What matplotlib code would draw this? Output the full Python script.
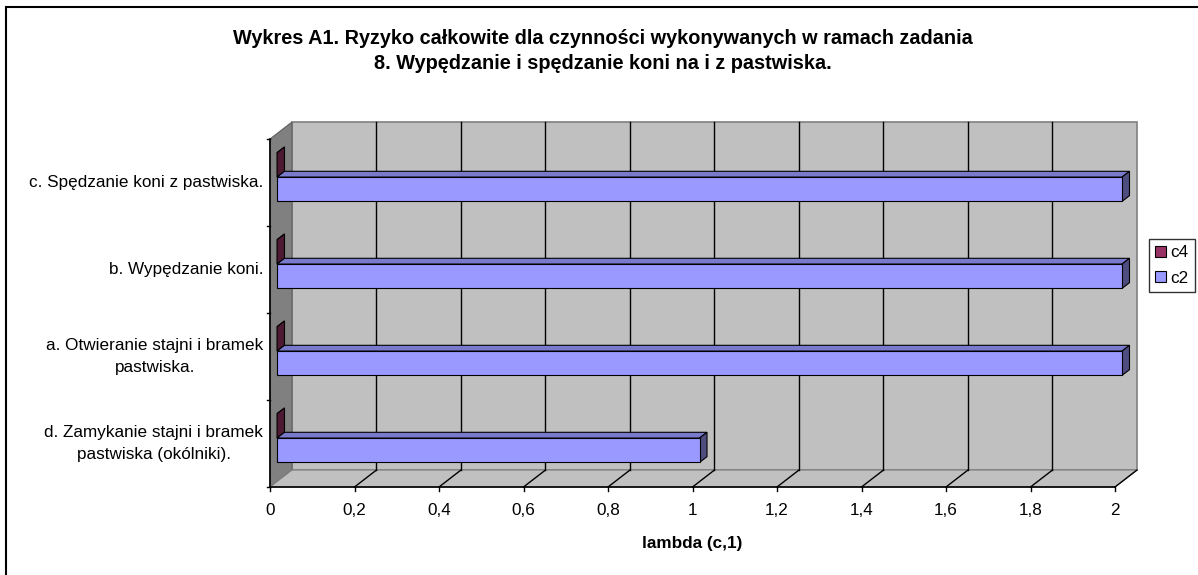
import numpy as np
import matplotlib.pyplot as plt
from matplotlib.patches import Polygon, Patch, Rectangle

plt.rcParams['font.family'] = ['Liberation Sans', 'DejaVu Sans']

# dane
categories = ['d. Zamykanie stajni i bramek\npastwiska (okólniki).',
              'a. Otwieranie stajni i bramek\npastwiska.',
              'b. Wypędzanie koni.',
              'c. Spędzanie koni z pastwiska.']
c2_values = [1, 2, 2, 2]
c4_values = [0, 0, 0, 0]
series_names = ['c4', 'c2']
xticks = [0, 0.2, 0.4, 0.6, 0.8, 1, 1.2, 1.4, 1.6, 1.8, 2]
xtick_labels = ['0', '0,2', '0,4', '0,6', '0,8', '1', '1,2', '1,4', '1,6', '1,8', '2']
title = ('Wykres A1. Ryzyko całkowite dla czynności wykonywanych w ramach zadania\n'
         '8. Wypędzanie i spędzanie koni na i z pastwiska.')
xlabel = 'lambda (c,1)'

c2_col, c2_top, c2_side = '#9999ff', '#7a7acc', '#4d4d80'
c4_col, c4_top, c4_side = '#993366', '#7a2952', '#4d1933'
fs = 12.3

fig = plt.figure(figsize=(11.98, 5.75), dpi=100)
ax = fig.add_axes([270/1198, 88/575, 845/1198, 348/575])
ax.set_xlim(0, 2)
ax.set_ylim(0, 4)
ax.axis('off')

# glebokosc 3D w jednostkach danych
DX, DY = 0.052, 0.195
def sh(x, y, t):
    return (x + DX*t, y + DY*t)

def poly(pts, **kw):
    ax.add_patch(Polygon(pts, clip_on=False, **kw))

# sciany
poly([sh(0, 0, 1), sh(2, 0, 1), sh(2, 4, 1), sh(0, 4, 1)],
     facecolor='#c0c0c0', edgecolor='#808080', lw=1.2, zorder=1)
poly([(0, 0), (0, 4), sh(0, 4, 1), sh(0, 0, 1)],
     facecolor='#808080', edgecolor='#606060', lw=0.8, zorder=1)
poly([(0, 0), (2, 0), sh(2, 0, 1), sh(0, 0, 1)],
     facecolor='#c0c0c0', edgecolor='#808080', lw=0.8, zorder=1)

# siatka
for xv in xticks[1:-1]:
    ax.plot([xv + DX, xv + DX], [DY, 4 + DY], color='black', lw=1, zorder=2, clip_on=False)
for xv in xticks[1:]:
    ax.plot([xv, xv + DX], [0, DY], color='black', lw=1, zorder=2, clip_on=False)

# osie
ax.plot([0, 2], [0, 0], color='black', lw=1.2, zorder=3, clip_on=False)
ax.plot([0, 0], [0, 4], color='black', lw=1.2, zorder=3, clip_on=False)
for xv, lab in zip(xticks, xtick_labels):
    ax.plot([xv, xv], [0, -0.05], color='black', lw=1, clip_on=False)
    ax.text(xv, -0.18, lab, ha='center', va='top', fontsize=fs)
for yv in range(5):
    ax.plot([0, -0.006], [yv, yv], color='black', lw=1, clip_on=False)
for i, lab in enumerate(categories):
    ax.text(-0.016, i + 0.5, lab, ha='right', va='center', fontsize=fs,
            multialignment='center', linespacing=1.6)
ax.text(1, -0.56, xlabel, ha='center', va='top', fontsize=fs, fontweight='bold')

# slupki 3D
h = 0.28
t0, t1 = 0.32, 0.66
def bar3d(y0, v, front, top, side):
    ec = dict(edgecolor='black', lw=0.8, zorder=4)
    poly([sh(0, y0 + h, t0), sh(v, y0 + h, t0), sh(v, y0 + h, t1), sh(0, y0 + h, t1)],
         facecolor=top, **ec)
    poly([sh(v, y0, t0), sh(v, y0, t1), sh(v, y0 + h, t1), sh(v, y0 + h, t0)],
         facecolor=side, **ec)
    if v > 0:
        poly([sh(0, y0, t0), sh(v, y0, t0), sh(v, y0 + h, t0), sh(0, y0 + h, t0)],
             facecolor=front, **ec)

for i in range(len(categories)):
    bar3d(i + 0.5, c4_values[i], c4_col, c4_top, c4_side)
    bar3d(i + 0.5 - h, c2_values[i], c2_col, c2_top, c2_side)

fig.text(0.503, 1 - 51/575, title, ha='center', va='center', fontsize=14.3,
         fontweight='bold', linespacing=1.45)

handles = [Patch(facecolor=c4_col, edgecolor='black', lw=0.8),
           Patch(facecolor=c2_col, edgecolor='black', lw=0.8)]
leg = fig.legend(handles, series_names, loc='center', bbox_to_anchor=(1172/1198, 1 - 265.5/575),
                 fontsize=fs, frameon=True, fancybox=False, edgecolor='black',
                 handlelength=0.6, handleheight=0.6, handletextpad=0.3,
                 borderpad=0.35, labelspacing=0.6, borderaxespad=0)
leg.get_frame().set_linewidth(1)

fig.add_artist(Rectangle((6/1198, -0.1), 1.2, 1 - 7/575 + 0.1, transform=fig.transFigure,
                         fill=False, edgecolor='black', lw=1.5))

fig.savefig('out.png', dpi=100)
